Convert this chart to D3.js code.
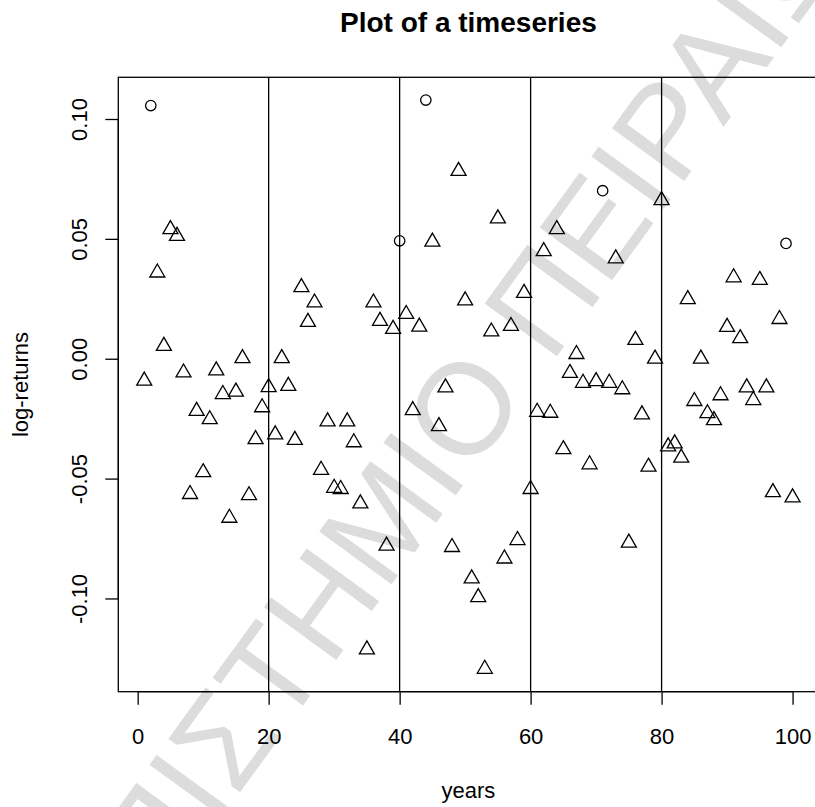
<!DOCTYPE html>
<html>
<head>
<meta charset="utf-8">
<script src="https://cdn.jsdelivr.net/npm/d3@7"></script>
<style>
  html, body { margin: 0; padding: 0; background: #ffffff; }
  svg { display: block; }
  text { font-family: "Liberation Sans", Arial, Helvetica, sans-serif; fill: #000; }
</style>
</head>
<body>
<svg id="chart" width="815" height="807"></svg>
<script>
// ---- data -------------------------------------------------------------
const years = [
  1, 2, 3, 4, 5, 6, 7, 8, 9, 10, 11, 12, 13, 14, 15, 16, 17, 18, 19, 20,
  21, 22, 23, 24, 25, 26, 27, 28, 29, 30, 31, 32, 33, 34, 35, 36, 37, 38, 39, 40,
  41, 42, 43, 44, 45, 46, 47, 48, 49, 50, 51, 52, 53, 54, 55, 56, 57, 58, 59, 60,
  61, 62, 63, 64, 65, 66, 67, 68, 69, 70, 71, 72, 73, 74, 75, 76, 77, 78, 79, 80,
  81, 82, 83, 84, 85, 86, 87, 88, 89, 90, 91, 92, 93, 94, 95, 96, 97, 98, 99, 100
];
const logReturns = [
  -0.0092,  0.1056,  0.0359,  0.0053,  0.0540,  0.0512, -0.0058, -0.0565, -0.0218, -0.0474,
  -0.0253, -0.0049, -0.0148, -0.0664, -0.0138,  0.0002, -0.0570, -0.0336, -0.0203, -0.0119,
  -0.0316,  0.0002, -0.0114, -0.0339,  0.0298,  0.0153,  0.0234, -0.0464, -0.0262, -0.0539,
  -0.0544, -0.0262, -0.0349, -0.0604, -0.1213,  0.0234,  0.0157, -0.0780,  0.0124,  0.0492,
   0.0186, -0.0215,  0.0133,  0.1079,  0.0488, -0.0282, -0.0120, -0.0786,  0.0783,  0.0243,
  -0.0917, -0.0995, -0.1294,  0.0113,  0.0585, -0.0834,  0.0136, -0.0757,  0.0274, -0.0544,
  -0.0222,  0.0448, -0.0226,  0.0540, -0.0378, -0.0060,  0.0019, -0.0101, -0.0441, -0.0094,
   0.0701, -0.0101,  0.0418, -0.0128, -0.0768,  0.0078, -0.0233, -0.0451,  0.0000,  0.0661,
  -0.0366, -0.0354, -0.0413,  0.0248, -0.0177,  0.0000, -0.0228, -0.0257, -0.0153,  0.0132,
   0.0339,  0.0085, -0.0120, -0.0173,  0.0328, -0.0120, -0.0557,  0.0165,  0.0481, -0.0579
];
// years drawn with an open circle instead of a triangle
const circledYears = [2, 40, 44, 71, 99];
// vertical reference lines
const dividerYears = [20, 40, 60, 80];

const xTicks = [0, 20, 40, 60, 80, 100];
const xTickLabels = ["0", "20", "40", "60", "80", "100"];
const yTicks = [-0.10, -0.05, 0.00, 0.05, 0.10];
const yTickLabels = ["-0.10", "-0.05", "0.00", "0.05", "0.10"];

const titleText = "Plot of a timeseries";
const xTitle = "years";
const yTitle = "log-returns";
const watermarkText = "ΠΑΝΕΠΙΣΤΗΜΙΟ ΠΕΙΡΑΙΩΣ";

// ---- layout -----------------------------------------------------------
const plot = { left: 118.3, right: 818.5, top: 77.3, bottom: 691.7 };
const fontSize = 22;
const tickLen = 13;
const lineW = 1.3;

const svg = d3.select("#chart");

// faint diagonal watermark underneath everything
const wm = svg.append("g")
  .attr("transform", "translate(222,738) rotate(-54)");
const wmText = wm.append("text")
  .attr("font-size", 130)
  .attr("x", 0)
  .attr("y", 0)
  .style("fill", "#dcdcdc")
  .text(watermarkText);
{
  // centre the Sigma of the first word on the anchor point
  const ext = wmText.node().getExtentOfChar(6);
  wmText.attr("x", -(ext.x + ext.width / 2)).attr("y", 0.358 * 130);
}

// R-style axis ranges: data extent padded by 4% on each side
function padded(ext) {
  const d = (ext[1] - ext[0]) * 0.04;
  return [ext[0] - d, ext[1] + d];
}
const x = d3.scaleLinear().domain(padded(d3.extent(years))).range([plot.left, plot.right]);
const y = d3.scaleLinear().domain(padded(d3.extent(logReturns))).range([plot.bottom, plot.top]);

const points = years.map((yr, i) => ({
  year: yr,
  value: logReturns[i],
  circle: circledYears.includes(yr)
}));

// plot frame
svg.append("rect")
  .attr("x", plot.left).attr("y", plot.top)
  .attr("width", plot.right - plot.left).attr("height", plot.bottom - plot.top)
  .attr("fill", "none").attr("stroke", "#000").attr("stroke-width", lineW);

// vertical dividers
svg.append("g").selectAll("line")
  .data(dividerYears).join("line")
  .attr("x1", d => x(d)).attr("x2", d => x(d))
  .attr("y1", plot.top).attr("y2", plot.bottom)
  .attr("stroke", "#000").attr("stroke-width", lineW);

// x axis (below the frame)
const xAxis = d3.axisBottom(x)
  .tickValues(xTicks)
  .tickFormat((d, i) => xTickLabels[i])
  .tickSize(tickLen)
  .tickPadding(0);
const gx = svg.append("g")
  .attr("transform", `translate(0,${plot.bottom})`)
  .call(xAxis);
gx.select(".domain")
  .attr("d", `M${x(xTicks[0])},0H${x(xTicks[xTicks.length - 1])}`)
  .attr("stroke-width", lineW);
gx.selectAll(".tick line").attr("stroke-width", lineW);
gx.selectAll(".tick text")
  .attr("font-size", fontSize)
  .attr("font-family", null)
  .attr("dy", null)
  .attr("y", 744 - plot.bottom);

// y axis (left of the frame), labels parallel to the axis
const yAxis = d3.axisLeft(y)
  .tickValues(yTicks)
  .tickFormat((d, i) => yTickLabels[i])
  .tickSize(tickLen)
  .tickPadding(0);
const gy = svg.append("g")
  .attr("transform", `translate(${plot.left},0)`)
  .call(yAxis);
gy.select(".domain")
  .attr("d", `M0,${y(yTicks[0])}V${y(yTicks[yTicks.length - 1])}`)
  .attr("stroke-width", lineW);
gy.selectAll(".tick line").attr("stroke-width", lineW);
gy.selectAll(".tick text")
  .attr("font-size", fontSize)
  .attr("font-family", null)
  .attr("text-anchor", "middle")
  .attr("x", null)
  .attr("dy", null)
  .attr("transform", `translate(${87 - plot.left},0) rotate(-90)`);

// markers
const triR = 8.67;
function trianglePath(cx, cy) {
  const p = d3.path();
  p.moveTo(cx, cy - triR);
  p.lineTo(cx + triR * Math.sqrt(3) / 2, cy + triR / 2);
  p.lineTo(cx - triR * Math.sqrt(3) / 2, cy + triR / 2);
  p.closePath();
  return p.toString();
}
svg.append("g").selectAll("path")
  .data(points.filter(d => !d.circle)).join("path")
  .attr("d", d => trianglePath(x(d.year), y(d.value)))
  .attr("fill", "none").attr("stroke", "#000").attr("stroke-width", lineW)
  .attr("stroke-linejoin", "miter");
svg.append("g").selectAll("circle")
  .data(points.filter(d => d.circle)).join("circle")
  .attr("cx", d => x(d.year)).attr("cy", d => y(d.value)).attr("r", 5.2)
  .attr("fill", "none").attr("stroke", "#000").attr("stroke-width", lineW);

// titles
svg.append("text")
  .attr("x", (plot.left + plot.right) / 2).attr("y", 31.7)
  .attr("text-anchor", "middle")
  .attr("font-size", 28).attr("font-weight", "bold")
  .text(titleText);
svg.append("text")
  .attr("x", (plot.left + plot.right) / 2).attr("y", 798)
  .attr("text-anchor", "middle")
  .attr("font-size", fontSize)
  .text(xTitle);
svg.append("text")
  .attr("transform", `translate(28,${(plot.top + plot.bottom) / 2}) rotate(-90)`)
  .attr("text-anchor", "middle")
  .attr("font-size", fontSize)
  .text(yTitle);
</script>
</body>
</html>
